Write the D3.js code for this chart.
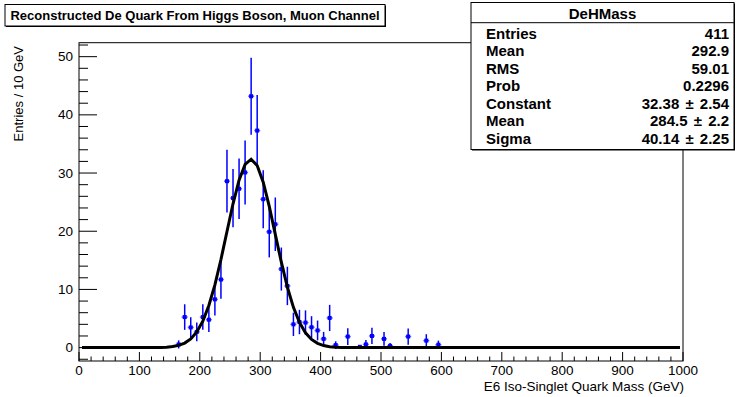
<!DOCTYPE html>
<html><head><meta charset="utf-8">
<script src="https://cdn.jsdelivr.net/npm/d3@7"></script>
<style>
html,body{margin:0;padding:0;background:#fff;}
svg{display:block;font-family:"Liberation Sans",Arial,Helvetica,sans-serif;}
</style></head>
<body><svg id="c" width="737" height="397"></svg>
<script>
// ---- data ----
const binCenters = [165,175,185,195,205,215,225,235,245,255,265,275,285,295,305,315,325,335,345,355,365,375,385,395,405,415,425,445,465,475,485,505,515,545,575,595];
const binValues  = [0.55,5.25,3.47,2.7,5.25,4.8,8.3,11.7,28.6,25.7,27.3,30.1,43.2,37.3,25.5,19.9,21.2,13.5,10.6,4.0,4.4,4.3,3.5,2.95,1.5,5.1,0.43,1.9,0.14,0.55,2.0,1.5,0.3,1.9,1.2,0.5];
const binErrors  = [0.7,2.2,1.75,1.6,2.2,2.1,2.8,3.3,5.4,5.0,5.2,5.5,6.6,6.1,5.0,4.4,4.6,3.7,3.3,2.0,2.1,2.1,1.9,1.7,1.2,2.25,0.65,1.43,0.3,0.75,1.4,1.2,0.5,1.4,1.1,0.7];
const binWidth = 10;
const fitParams = {constant:32.38, mean:284.5, sigma:40.14};
const xTicks = [0,100,200,300,400,500,600,700,800,900,1000];
const yTicks = [0,10,20,30,40,50];
const statNames  = ["Entries","Mean","RMS","Prob","Constant","Mean","Sigma"];
const statValues = ["411","292.9","59.01","0.2296","32.38 \u00b1 2.54","284.5 \u00b1 2.2","40.14 \u00b1 2.25"];
const histName = "DeHMass";
const titleText = "Reconstructed De Quark From Higgs Boson, Muon Channel";
const xTitle = "E6 Iso-Singlet Quark Mass (GeV)";
const yTitle = "Entries / 10 GeV";

// ---- layout ----
const svg = d3.select("#c");
const L = 79, R = 683, T = 42.7, B = 361;
const x = d3.scaleLinear().domain([0,1000]).range([L,R]);
const y = d3.scaleLinear().domain([-2.3,52.4]).range([B,T]);

// frame
svg.append("rect").attr("x",L).attr("y",T).attr("width",R-L).attr("height",B-T)
  .attr("fill","none").attr("stroke","#000").attr("stroke-width",1);

// x axis ticks
const xMinor = d3.range(0,1001,20);
const gx = svg.append("g");
gx.selectAll("line.mn").data(xMinor).join("line")
  .attr("x1",d=>x(d)).attr("x2",d=>x(d)).attr("y1",B).attr("y2",d=>B-(d%100===0?9:4.5))
  .attr("stroke","#000").attr("stroke-width",1);
gx.selectAll("text").data(xTicks).join("text")
  .attr("x",d=>x(d)).attr("y",B+13.5).attr("text-anchor","middle")
  .attr("font-size",13.5).text(d=>d);

// y axis ticks
const yMinor = d3.range(-2,53,2).filter(v=>y(v)<=B && y(v)>=T);
const gy = svg.append("g");
gy.selectAll("line").data(yMinor).join("line")
  .attr("x1",L).attr("x2",d=>L+(d%10===0?18:9)).attr("y1",d=>y(d)).attr("y2",d=>y(d))
  .attr("stroke","#000").attr("stroke-width",1);
gy.selectAll("text").data(yTicks).join("text")
  .attr("x",L-6).attr("y",d=>y(d)+4.5).attr("text-anchor","end")
  .attr("font-size",13.5).text(d=>d);

// axis titles
svg.append("text").attr("x",R+1).attr("y",391).attr("text-anchor","end")
  .attr("font-size",13.5).text(xTitle);
svg.append("text").attr("transform","translate(23,46) rotate(-90)")
  .attr("text-anchor","end").attr("font-size",13).text(yTitle);

// data points
const pts = binCenters.map((c,i)=>({c, v:binValues[i], e:binErrors[i]}));
const gp = svg.append("g");
gp.selectAll("line.v").data(pts).join("line")
  .attr("x1",d=>x(d.c)).attr("x2",d=>x(d.c))
  .attr("y1",d=>y(d.v-d.e)).attr("y2",d=>y(d.v+d.e))
  .attr("stroke","#0000ff").attr("stroke-width",1.5);
gp.selectAll("line.h").data(pts).join("line")
  .attr("x1",d=>x(d.c-binWidth/2)).attr("x2",d=>x(d.c+binWidth/2))
  .attr("y1",d=>y(d.v)).attr("y2",d=>y(d.v))
  .attr("stroke","#0000ff").attr("stroke-width",1.5).attr("stroke-opacity",0.6);
gp.selectAll("rect").data(pts).join("rect")
  .attr("x",d=>x(d.c)-2).attr("y",d=>y(d.v)-2).attr("width",4).attr("height",4)
  .attr("fill","#0000ff");

// fit curve (gaussian from fit parameters, sampled at bin centres like ROOT)
const samples = d3.range(5,1000,binWidth);
const gauss = t => fitParams.constant*Math.exp(-0.5*Math.pow((t-fitParams.mean)/fitParams.sigma,2));
svg.append("path").datum(samples)
  .attr("d", d3.line().x(d=>x(d)).y(d=>y(gauss(d))))
  .attr("fill","none").attr("stroke","#000").attr("stroke-width",3).attr("stroke-linejoin","miter");

// title box
const tb = {x:5, y:4.5, w:380, h:21.5};
svg.append("rect").attr("x",tb.x+1).attr("y",tb.y+1).attr("width",tb.w).attr("height",tb.h).attr("fill","#000");
svg.append("rect").attr("x",tb.x).attr("y",tb.y).attr("width",tb.w).attr("height",tb.h)
  .attr("fill","#fff").attr("stroke","#000").attr("stroke-width",1);
svg.append("text").attr("x",tb.x+tb.w/2).attr("y",tb.y+15.5).attr("text-anchor","middle")
  .attr("font-size",13).attr("font-weight","bold").text(titleText);

// stats box
const sb = {x:471, y:2.5, w:263, h:147};
svg.append("rect").attr("x",sb.x+1).attr("y",sb.y+1).attr("width",sb.w).attr("height",sb.h).attr("fill","#000");
svg.append("rect").attr("x",sb.x).attr("y",sb.y).attr("width",sb.w).attr("height",sb.h)
  .attr("fill","#fff").attr("stroke","#000").attr("stroke-width",1);
svg.append("line").attr("x1",sb.x).attr("x2",sb.x+sb.w).attr("y1",22.7).attr("y2",22.7)
  .attr("stroke","#000").attr("stroke-width",1);
svg.append("text").attr("x",sb.x+sb.w/2).attr("y",18.5).attr("text-anchor","middle")
  .attr("font-size",15).attr("font-weight","bold").text(histName);
const rowY = d3.scaleLinear().domain([0,statNames.length-1]).range([38.5,144]);
svg.append("g").selectAll("text").data(statNames).join("text")
  .attr("x",486).attr("y",(d,i)=>rowY(i)).attr("font-size",15).attr("font-weight","bold").text(d=>d);
svg.append("g").selectAll("text").data(statValues).join("text")
  .attr("x",729).attr("y",(d,i)=>rowY(i)).attr("text-anchor","end").attr("font-size",15).attr("font-weight","bold")
  .attr("word-spacing",2).text(d=>d);
</script></body></html>
